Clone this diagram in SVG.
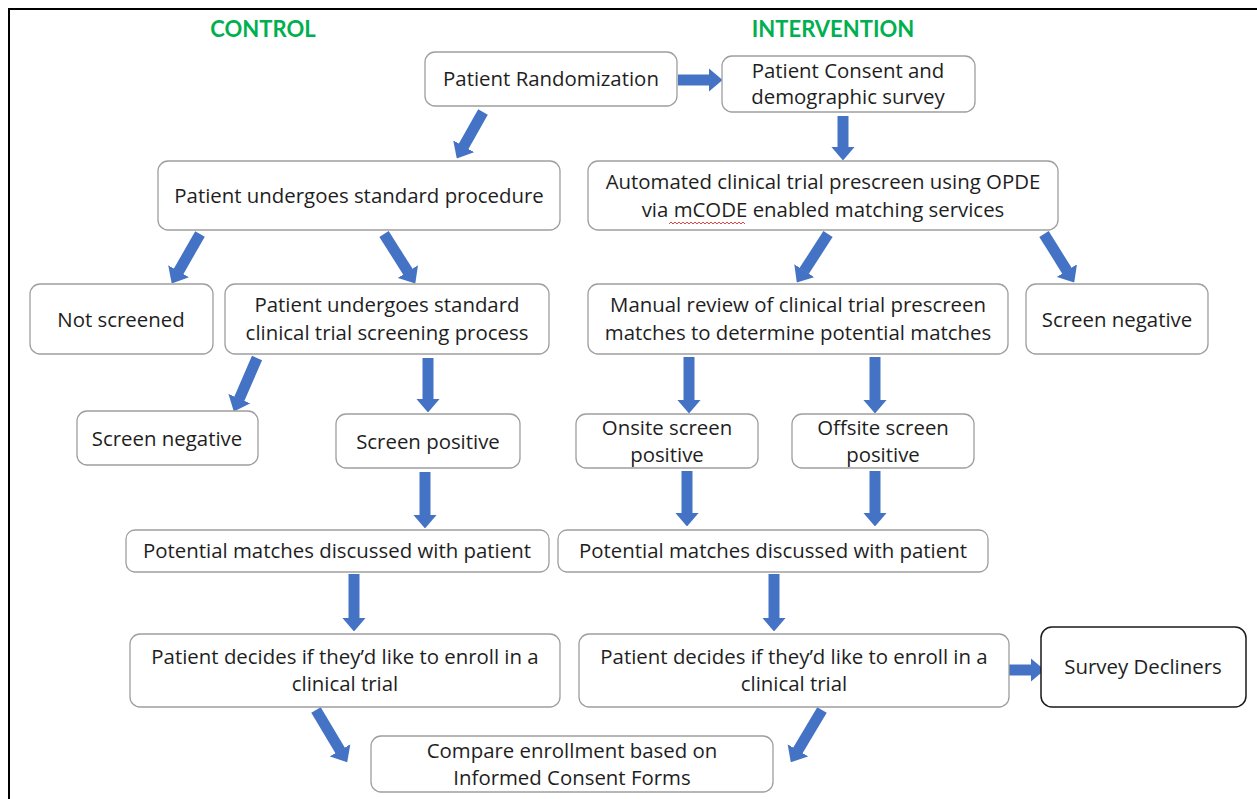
<svg xmlns="http://www.w3.org/2000/svg" width="1257" height="799" viewBox="0 0 1257 799">
<style>
.box{fill:#fff;stroke:#9e9e9e;stroke-width:1.3}
.dark{fill:#fff;stroke:#1a1a1a;stroke-width:1.5}
.t{font-family:"Open Sans","Liberation Sans",sans-serif;font-size:20.4px;fill:#1e1e1e;text-anchor:middle}
.h{font-family:Lato,"Liberation Sans",sans-serif;font-size:22px;font-weight:bold;fill:#00b050;text-anchor:middle}
.c{stroke:#4472c4;stroke-width:11;fill:none;marker-end:url(#ah)}
</style>
<defs>
<marker id="ah" viewBox="0 0 14 24" refX="0.5" refY="12" markerWidth="1.27" markerHeight="2.18" orient="auto" markerUnits="strokeWidth" preserveAspectRatio="none">
<path d="M0,0 L14,12 L0,24 Z" fill="#4472c4"/>
</marker>
</defs>
<rect x="0" y="0" width="1257" height="799" fill="#fff"/>
<path d="M9,799 V9 H1257" fill="none" stroke="#000" stroke-width="2"/>
<text class="h" x="263" y="37">CONTROL</text>
<text class="h" x="833" y="37">INTERVENTION</text>

<g id="connectors">
<line class="c" x1="678" y1="80" x2="709" y2="80"/>
<line class="c" x1="483" y1="112" x2="463.4" y2="146.7"/>
<line class="c" x1="843" y1="116" x2="843" y2="147"/>
<line class="c" x1="200" y1="234" x2="178.4" y2="271.7"/>
<line class="c" x1="384" y1="234" x2="408.1" y2="272"/>
<line class="c" x1="257" y1="358" x2="239.2" y2="399.1"/>
<line class="c" x1="428" y1="358" x2="428" y2="399"/>
<line class="c" x1="828" y1="234" x2="804.1" y2="271.1"/>
<line class="c" x1="1044" y1="234" x2="1067.1" y2="271"/>
<line class="c" x1="689" y1="357" x2="689" y2="400"/>
<line class="c" x1="875" y1="357" x2="875" y2="400"/>
<line class="c" x1="425" y1="472" x2="425" y2="515"/>
<line class="c" x1="687" y1="471" x2="687" y2="513"/>
<line class="c" x1="875" y1="471" x2="875" y2="513"/>
<line class="c" x1="354" y1="574" x2="354" y2="618"/>
<line class="c" x1="774" y1="574" x2="774" y2="618"/>
<line class="c" x1="1009" y1="670" x2="1031" y2="670"/>
<line class="c" x1="316" y1="710" x2="340.3" y2="750.8"/>
<line class="c" x1="822" y1="710" x2="797.7" y2="750.8"/>
</g>

<g id="n-randomization"><rect class="box" x="425" y="52" width="252" height="54" rx="10"/><text class="t" x="551" y="86">Patient Randomization</text></g>
<g id="n-consent"><rect class="box" x="722" y="56" width="253" height="56" rx="10"/><text class="t" x="848" y="78">Patient Consent and</text><text class="t" x="848" y="104">demographic survey</text></g>
<g id="n-standard"><rect class="box" x="158" y="161" width="402" height="69" rx="10"/><text class="t" x="359" y="203">Patient undergoes standard procedure</text></g>
<g id="n-automated"><rect class="box" x="588" y="161" width="470" height="69" rx="10"/><text class="t" x="823" y="189">Automated clinical trial prescreen using OPDE</text><text class="t" x="823" y="217">via mCODE enabled matching services</text><path d="M669,224 l2,-2 l2,2 l2,-2 l2,2 l2,-2 l2,2 l2,-2 l2,2 l2,-2 l2,2 l2,-2 l2,2 l2,-2 l2,2 l2,-2 l2,2 l2,-2 l2,2 l2,-2 l2,2 l2,-2 l2,2 l2,-2 l2,2 l2,-2 l2,2 l2,-2 l2,2 l2,-2 l2,2 l2,-2 l2,2 l2,-2 l2,2 l2,-2 l2,2 l2,-2 l2,2" fill="none" stroke="#e03030" stroke-width="0.9"/></g>
<g id="n-notscreened"><rect class="box" x="30" y="284" width="183" height="70" rx="10"/><text class="t" x="121" y="327">Not screened</text></g>
<g id="n-screening"><rect class="box" x="225" y="284" width="324" height="70" rx="10"/><text class="t" x="387" y="312">Patient undergoes standard</text><text class="t" x="387" y="340">clinical trial screening process</text></g>
<g id="n-manual"><rect class="box" x="588" y="284" width="420" height="70" rx="10"/><text class="t" x="798" y="312">Manual review of clinical trial prescreen</text><text class="t" x="798" y="340">matches to determine potential matches</text></g>
<g id="n-screenneg-r"><rect class="box" x="1026" y="284" width="182" height="70" rx="10"/><text class="t" x="1117" y="327">Screen negative</text></g>
<g id="n-screenneg-l"><rect class="box" x="77" y="411" width="181" height="54" rx="10"/><text class="t" x="167" y="446">Screen negative</text></g>
<g id="n-screenpos"><rect class="box" x="336" y="414" width="184" height="54" rx="10"/><text class="t" x="428" y="449">Screen positive</text></g>
<g id="n-onsite"><rect class="box" x="576" y="414" width="182" height="54" rx="10"/><text class="t" x="667" y="435">Onsite screen</text><text class="t" x="667" y="462">positive</text></g>
<g id="n-offsite"><rect class="box" x="792" y="414" width="182" height="54" rx="10"/><text class="t" x="883" y="435">Offsite screen</text><text class="t" x="883" y="462">positive</text></g>
<g id="n-potential-l"><rect class="box" x="126" y="530" width="423" height="42" rx="9"/><text class="t" x="337" y="558">Potential matches discussed with patient</text></g>
<g id="n-potential-r"><rect class="box" x="558" y="530" width="430" height="42" rx="9"/><text class="t" x="773" y="558">Potential matches discussed with patient</text></g>
<g id="n-decides-l"><rect class="box" x="130" y="634" width="430" height="73" rx="10"/><text class="t" x="345" y="664">Patient decides if they’d like to enroll in a</text><text class="t" x="345" y="691">clinical trial</text></g>
<g id="n-decides-r"><rect class="box" x="579" y="634" width="430" height="73" rx="10"/><text class="t" x="794" y="664">Patient decides if they’d like to enroll in a</text><text class="t" x="794" y="691">clinical trial</text></g>
<g id="n-survey"><rect class="dark" x="1041" y="627" width="205" height="80" rx="11"/><text class="t" x="1143" y="674">Survey Decliners</text></g>
<g id="n-compare"><rect class="box" x="371" y="736" width="402" height="56" rx="10"/><text class="t" x="572" y="758">Compare enrollment based on</text><text class="t" x="572" y="785">Informed Consent Forms</text></g>
</svg>
